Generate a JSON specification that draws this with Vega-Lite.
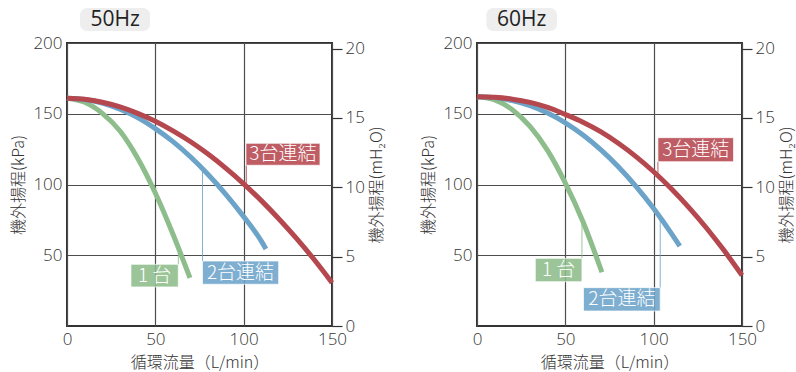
{
  "$schema": "https://vega.github.io/schema/vega-lite/v6.json",
  "padding": {"left": 9, "top": 7, "right": 0, "bottom": 0},
  "spacing": 33,
  "config": {
    "font": "Noto Sans CJK JP",
    "view": {"stroke": "#333333", "strokeWidth": 2},
    "axis": {"labelFont": "Open Sans", "labelFontSize": 17, "labelFontWeight": 300, "labelColor": "#333333", "titleFontSize": 16, "titleFontWeight": 300, "titleColor": "#333333", "gridColor": "#4d4d4d", "gridOpacity": 1, "gridWidth": 1.2, "domain": false, "labelFlush": false}
  },
  "datasets": {
    "curves": [
      {"freq": "50Hz", "series": "1台", "Q": 0, "kPa": 161},
      {"freq": "50Hz", "series": "1台", "Q": 10, "kPa": 158.1},
      {"freq": "50Hz", "series": "1台", "Q": 20, "kPa": 150.3},
      {"freq": "50Hz", "series": "1台", "Q": 30, "kPa": 137.8},
      {"freq": "50Hz", "series": "1台", "Q": 40, "kPa": 118.6},
      {"freq": "50Hz", "series": "1台", "Q": 50, "kPa": 94},
      {"freq": "50Hz", "series": "1台", "Q": 60, "kPa": 64.8},
      {"freq": "50Hz", "series": "1台", "Q": 69.6, "kPa": 34},
      {"freq": "50Hz", "series": "2台連結", "Q": 0, "kPa": 161},
      {"freq": "50Hz", "series": "2台連結", "Q": 10, "kPa": 160.1},
      {"freq": "50Hz", "series": "2台連結", "Q": 20, "kPa": 157.6},
      {"freq": "50Hz", "series": "2台連結", "Q": 30, "kPa": 153.2},
      {"freq": "50Hz", "series": "2台連結", "Q": 40, "kPa": 147.3},
      {"freq": "50Hz", "series": "2台連結", "Q": 50, "kPa": 139.5},
      {"freq": "50Hz", "series": "2台連結", "Q": 60, "kPa": 130.3},
      {"freq": "50Hz", "series": "2台連結", "Q": 70, "kPa": 119.4},
      {"freq": "50Hz", "series": "2台連結", "Q": 80, "kPa": 106.9},
      {"freq": "50Hz", "series": "2台連結", "Q": 90, "kPa": 92.9},
      {"freq": "50Hz", "series": "2台連結", "Q": 100, "kPa": 77.3},
      {"freq": "50Hz", "series": "2台連結", "Q": 110, "kPa": 60},
      {"freq": "50Hz", "series": "2台連結", "Q": 112.6, "kPa": 54.5},
      {"freq": "50Hz", "series": "3台連結", "Q": 0, "kPa": 161},
      {"freq": "50Hz", "series": "3台連結", "Q": 10, "kPa": 160.2},
      {"freq": "50Hz", "series": "3台連結", "Q": 20, "kPa": 158.1},
      {"freq": "50Hz", "series": "3台連結", "Q": 30, "kPa": 154.8},
      {"freq": "50Hz", "series": "3台連結", "Q": 40, "kPa": 150.3},
      {"freq": "50Hz", "series": "3台連結", "Q": 50, "kPa": 144.7},
      {"freq": "50Hz", "series": "3台連結", "Q": 60, "kPa": 137.9},
      {"freq": "50Hz", "series": "3台連結", "Q": 70, "kPa": 130.2},
      {"freq": "50Hz", "series": "3台連結", "Q": 80, "kPa": 121.3},
      {"freq": "50Hz", "series": "3台連結", "Q": 90, "kPa": 111.4},
      {"freq": "50Hz", "series": "3台連結", "Q": 100, "kPa": 100.5},
      {"freq": "50Hz", "series": "3台連結", "Q": 110, "kPa": 88.6},
      {"freq": "50Hz", "series": "3台連結", "Q": 120, "kPa": 75.6},
      {"freq": "50Hz", "series": "3台連結", "Q": 130, "kPa": 61.7},
      {"freq": "50Hz", "series": "3台連結", "Q": 140, "kPa": 46.8},
      {"freq": "50Hz", "series": "3台連結", "Q": 150, "kPa": 30.6},
      {"freq": "60Hz", "series": "1台", "Q": 0, "kPa": 162},
      {"freq": "60Hz", "series": "1台", "Q": 10, "kPa": 159.8},
      {"freq": "60Hz", "series": "1台", "Q": 20, "kPa": 152.9},
      {"freq": "60Hz", "series": "1台", "Q": 30, "kPa": 141},
      {"freq": "60Hz", "series": "1台", "Q": 40, "kPa": 123.9},
      {"freq": "60Hz", "series": "1台", "Q": 50, "kPa": 101},
      {"freq": "60Hz", "series": "1台", "Q": 60, "kPa": 73.7},
      {"freq": "60Hz", "series": "1台", "Q": 70.7, "kPa": 38},
      {"freq": "60Hz", "series": "2台連結", "Q": 0, "kPa": 162},
      {"freq": "60Hz", "series": "2台連結", "Q": 10, "kPa": 161.4},
      {"freq": "60Hz", "series": "2台連結", "Q": 20, "kPa": 159.3},
      {"freq": "60Hz", "series": "2台連結", "Q": 30, "kPa": 155.7},
      {"freq": "60Hz", "series": "2台連結", "Q": 40, "kPa": 150.5},
      {"freq": "60Hz", "series": "2台連結", "Q": 50, "kPa": 143.6},
      {"freq": "60Hz", "series": "2台連結", "Q": 60, "kPa": 135},
      {"freq": "60Hz", "series": "2台連結", "Q": 70, "kPa": 124.7},
      {"freq": "60Hz", "series": "2台連結", "Q": 80, "kPa": 112.6},
      {"freq": "60Hz", "series": "2台連結", "Q": 90, "kPa": 98.7},
      {"freq": "60Hz", "series": "2台連結", "Q": 100, "kPa": 83},
      {"freq": "60Hz", "series": "2台連結", "Q": 110, "kPa": 65.5},
      {"freq": "60Hz", "series": "2台連結", "Q": 114.8, "kPa": 56.5},
      {"freq": "60Hz", "series": "3台連結", "Q": 0, "kPa": 162},
      {"freq": "60Hz", "series": "3台連結", "Q": 10, "kPa": 161.6},
      {"freq": "60Hz", "series": "3台連結", "Q": 20, "kPa": 160.3},
      {"freq": "60Hz", "series": "3台連結", "Q": 30, "kPa": 158},
      {"freq": "60Hz", "series": "3台連結", "Q": 40, "kPa": 154.5},
      {"freq": "60Hz", "series": "3台連結", "Q": 50, "kPa": 149.5},
      {"freq": "60Hz", "series": "3台連結", "Q": 60, "kPa": 144},
      {"freq": "60Hz", "series": "3台連結", "Q": 70, "kPa": 137.3},
      {"freq": "60Hz", "series": "3台連結", "Q": 80, "kPa": 129.1},
      {"freq": "60Hz", "series": "3台連結", "Q": 90, "kPa": 119.7},
      {"freq": "60Hz", "series": "3台連結", "Q": 100, "kPa": 109},
      {"freq": "60Hz", "series": "3台連結", "Q": 110, "kPa": 97},
      {"freq": "60Hz", "series": "3台連結", "Q": 120, "kPa": 83.7},
      {"freq": "60Hz", "series": "3台連結", "Q": 130, "kPa": 69.1},
      {"freq": "60Hz", "series": "3台連結", "Q": 140, "kPa": 53.1},
      {"freq": "60Hz", "series": "3台連結", "Q": 150, "kPa": 35.8}
    ],
    "leaders": [
      {"freq": "50Hz", "series": "3台連結", "Q": 101.5, "kPa": 100.5, "kPa2": 113.6},
      {"freq": "50Hz", "series": "2台連結", "Q": 76.7, "kPa": 110, "kPa2": 45.9},
      {"freq": "50Hz", "series": "1台", "Q": 63, "kPa": 52, "kPa2": 43.6},
      {"freq": "60Hz", "series": "3台連結", "Q": 102.4, "kPa": 106.5, "kPa2": 116.1},
      {"freq": "60Hz", "series": "2台連結", "Q": 103.7, "kPa": 79, "kPa2": 27.1},
      {"freq": "60Hz", "series": "1台", "Q": 59.4, "kPa": 73, "kPa2": 47.8}
    ],
    "boxes": [
      {"freq": "50Hz", "series": "3台連結", "Q": 101.3, "Q2": 143.2, "kPa": 113.6, "kPa2": 129.1},
      {"freq": "50Hz", "series": "2台連結", "Q": 76.7, "Q2": 119.8, "kPa": 29.5, "kPa2": 45.9},
      {"freq": "50Hz", "series": "1台", "Q": 36.2, "Q2": 63, "kPa": 27.6, "kPa2": 43.6},
      {"freq": "60Hz", "series": "3台連結", "Q": 102.4, "Q2": 145.2, "kPa": 116.1, "kPa2": 133.1},
      {"freq": "60Hz", "series": "2台連結", "Q": 60.3, "Q2": 103.7, "kPa": 10.6, "kPa2": 27.1},
      {"freq": "60Hz", "series": "1台", "Q": 33, "Q2": 59.4, "kPa": 31.3, "kPa2": 47.8}
    ],
    "boxtext": [
      {"freq": "50Hz", "label": "3台連結", "Q": 122.2, "kPa": 121.3},
      {"freq": "50Hz", "label": "2台連結", "Q": 98.2, "kPa": 37.7},
      {"freq": "50Hz", "label": "1 台", "Q": 49.6, "kPa": 35.5},
      {"freq": "60Hz", "label": "3台連結", "Q": 123.8, "kPa": 124.6},
      {"freq": "60Hz", "label": "2台連結", "Q": 82, "kPa": 18.9},
      {"freq": "60Hz", "label": "1 台", "Q": 46.2, "kPa": 39.6}
    ],
    "tbox": [
      {"freq": "50Hz", "Q": 7.4, "Q2": 47, "kPa": 208.5, "kPa2": 224.7},
      {"freq": "60Hz", "Q": 5.3, "Q2": 45.3, "kPa": 208.5, "kPa2": 224.7}
    ],
    "ttext": [
      {"freq": "50Hz", "Q": 27.2, "kPa": 216.3, "label": "50Hz"},
      {"freq": "60Hz", "Q": 25.3, "kPa": 216.3, "label": "60Hz"}
    ],
    "mh2o": [{"m": 0}, {"m": 5}, {"m": 10}, {"m": 15}, {"m": 20}]
  },
  "hconcat": [
    {
      "width": 265, "height": 283,
      "resolve": {"scale": {"y": "independent"}},
      "layer": [
        {
          "encoding": {
            "x": {"field": "Q", "type": "quantitative", "scale": {"domain": [0, 150], "nice": false}, "axis": {"values": [0, 50, 100, 150], "ticks": false, "grid": true, "labelPadding": 5, "titlePadding": 7, "title": "循環流量（L/min）"}},
            "y": {"field": "kPa", "type": "quantitative", "scale": {"domain": [0, 200], "nice": false}, "axis": {"values": [50, 100, 150, 200], "ticks": false, "grid": true, "labelPadding": 5, "titlePadding": 6, "title": "機外揚程(kPa)"}},
            "color": {"field": "series", "type": "nominal", "scale": {"domain": ["1台", "2台連結", "3台連結"], "range": ["#8dbd8b", "#6ca3c9", "#b5474e"]}, "legend": null}
          },
          "layer": [
            {"data": {"name": "leaders"}, "transform": [{"filter": "datum.freq == '50Hz'"}], "mark": {"type": "rule", "strokeWidth": 1, "opacity": 0.85}, "encoding": {"y2": {"field": "kPa2"}}},
            {"data": {"name": "curves"}, "transform": [{"filter": "datum.freq == '50Hz'"}], "mark": {"type": "line", "strokeWidth": 5, "interpolate": "monotone", "strokeCap": "butt"}},
            {"data": {"name": "boxes"}, "transform": [{"filter": "datum.freq == '50Hz'"}], "mark": {"type": "rect", "fillOpacity": 0.88, "stroke": "#ffffff", "strokeWidth": 1, "strokeOpacity": 0.7}, "encoding": {"x2": {"field": "Q2"}, "y2": {"field": "kPa2"}}},
            {"data": {"name": "boxtext"}, "transform": [{"filter": "datum.freq == '50Hz'"}], "mark": {"type": "text", "fontSize": 19, "fontWeight": 300, "align": "center", "baseline": "middle"}, "encoding": {"text": {"field": "label"}, "color": {"value": "#ffffff"}}},
            {"data": {"name": "tbox"}, "transform": [{"filter": "datum.freq == '50Hz'"}], "mark": {"type": "rect", "cornerRadius": 7}, "encoding": {"x2": {"field": "Q2"}, "y2": {"field": "kPa2"}, "color": {"value": "#eeeeee"}}},
            {"data": {"name": "ttext"}, "transform": [{"filter": "datum.freq == '50Hz'"}], "mark": {"type": "text", "font": "Open Sans", "fontSize": 21, "fontWeight": 400, "align": "center", "baseline": "middle"}, "encoding": {"text": {"field": "label"}, "color": {"value": "#222222"}}}
          ]
        },
        {
          "data": {"name": "mh2o"},
          "mark": {"type": "point", "opacity": 0},
          "encoding": {
            "y": {"field": "m", "type": "quantitative", "scale": {"domain": [0, 20.408], "nice": false}, "axis": {"orient": "right", "values": [0, 5, 10, 15, 20], "ticks": true, "tickSize": 10, "tickColor": "#333333", "tickWidth": 1.2, "grid": false, "labelPadding": 3, "titlePadding": 4, "titleAngle": 270, "titleBaseline": "top", "title": "機外揚程(mH₂O)"}}
          }
        }
      ]
    },
    {
      "width": 265, "height": 283,
      "resolve": {"scale": {"y": "independent"}},
      "layer": [
        {
          "encoding": {
            "x": {"field": "Q", "type": "quantitative", "scale": {"domain": [0, 150], "nice": false}, "axis": {"values": [0, 50, 100, 150], "ticks": false, "grid": true, "labelPadding": 5, "titlePadding": 7, "title": "循環流量（L/min）"}},
            "y": {"field": "kPa", "type": "quantitative", "scale": {"domain": [0, 200], "nice": false}, "axis": {"values": [50, 100, 150, 200], "ticks": false, "grid": true, "labelPadding": 5, "titlePadding": 6, "title": "機外揚程(kPa)"}},
            "color": {"field": "series", "type": "nominal", "scale": {"domain": ["1台", "2台連結", "3台連結"], "range": ["#8dbd8b", "#6ca3c9", "#b5474e"]}, "legend": null}
          },
          "layer": [
            {"data": {"name": "leaders"}, "transform": [{"filter": "datum.freq == '60Hz'"}], "mark": {"type": "rule", "strokeWidth": 1, "opacity": 0.85}, "encoding": {"y2": {"field": "kPa2"}}},
            {"data": {"name": "curves"}, "transform": [{"filter": "datum.freq == '60Hz'"}], "mark": {"type": "line", "strokeWidth": 5, "interpolate": "monotone", "strokeCap": "butt"}},
            {"data": {"name": "boxes"}, "transform": [{"filter": "datum.freq == '60Hz'"}], "mark": {"type": "rect", "fillOpacity": 0.88, "stroke": "#ffffff", "strokeWidth": 1, "strokeOpacity": 0.7}, "encoding": {"x2": {"field": "Q2"}, "y2": {"field": "kPa2"}}},
            {"data": {"name": "boxtext"}, "transform": [{"filter": "datum.freq == '60Hz'"}], "mark": {"type": "text", "fontSize": 19, "fontWeight": 300, "align": "center", "baseline": "middle"}, "encoding": {"text": {"field": "label"}, "color": {"value": "#ffffff"}}},
            {"data": {"name": "tbox"}, "transform": [{"filter": "datum.freq == '60Hz'"}], "mark": {"type": "rect", "cornerRadius": 7}, "encoding": {"x2": {"field": "Q2"}, "y2": {"field": "kPa2"}, "color": {"value": "#eeeeee"}}},
            {"data": {"name": "ttext"}, "transform": [{"filter": "datum.freq == '60Hz'"}], "mark": {"type": "text", "font": "Open Sans", "fontSize": 21, "fontWeight": 400, "align": "center", "baseline": "middle"}, "encoding": {"text": {"field": "label"}, "color": {"value": "#222222"}}}
          ]
        },
        {
          "data": {"name": "mh2o"},
          "mark": {"type": "point", "opacity": 0},
          "encoding": {
            "y": {"field": "m", "type": "quantitative", "scale": {"domain": [0, 20.408], "nice": false}, "axis": {"orient": "right", "values": [0, 5, 10, 15, 20], "ticks": true, "tickSize": 10, "tickColor": "#333333", "tickWidth": 1.2, "grid": false, "labelPadding": 3, "titlePadding": 4, "titleAngle": 270, "titleBaseline": "top", "title": "機外揚程(mH₂O)"}}
          }
        }
      ]
    }
  ]
}
